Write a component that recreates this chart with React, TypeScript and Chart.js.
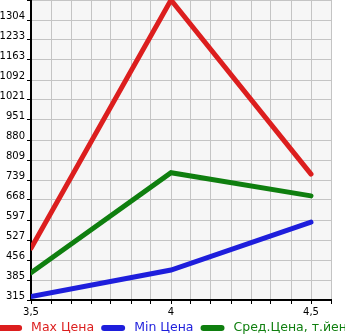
import React, { useEffect, useRef } from "react";
import { Chart, registerables } from "chart.js";

Chart.register(...registerables);

const xValues = [3.5, 4, 4.5];
const xTickLabels = ["3,5", "4", "4,5"];
const maxPrice = [498, 1375, 760];
const minPrice = [327, 421, 590];
const avgPrice = [411, 765, 683];
const seriesNames = ["Max Цена", "Min Цена", "Сред.Цена, т.йен"];
const seriesColors = ["#dc1e1e", "#1e1edc", "#0f7f0f"];
const yTickLabels = ["315", "385", "456", "527", "597", "668", "739", "809", "880", "951", "1021", "1092", "1163", "1233", "1304", ""];
const yMin = 315;
const yStep = 70.68;
const xStep = 1 / 14;

const FONT = "'DejaVu Sans', sans-serif";

export default function App() {
  const ref = useRef<HTMLCanvasElement | null>(null);
  useEffect(() => {
    if (!ref.current) return;
    const bgPlugin = {
      id: "bg",
      beforeDraw(chart: any) {
        const { ctx, chartArea } = chart;
        ctx.save();
        ctx.fillStyle = "#f6f6f6";
        ctx.fillRect(chartArea.left, chartArea.top, chartArea.right - chartArea.left, chartArea.bottom - chartArea.top);
        ctx.restore();
      },
    };
    const legendPlugin = {
      id: "customLegend",
      afterDraw(chart: any) {
        const ctx = chart.ctx;
        ctx.save();
        ctx.font = "12.5px " + FONT;
        const segW = 24, gap = 9, itemGap = 7;
        const items = chart.data.datasets.map((d: any) => ({ label: d.label, color: d.borderColor, w: ctx.measureText(d.label).width }));
        let total = 0;
        items.forEach((it: any, i: number) => { total += segW + gap + it.w + (i < items.length - 1 ? itemGap : 0); });
        let x = (chart.width - total) / 2;
        const y = 328;
        items.forEach((it: any) => {
          ctx.strokeStyle = it.color;
          ctx.lineWidth = 6;
          ctx.lineCap = "round";
          ctx.beginPath();
          ctx.moveTo(x + 3, y);
          ctx.lineTo(x + segW - 3, y);
          ctx.stroke();
          ctx.fillStyle = it.color;
          ctx.textBaseline = "middle";
          ctx.textAlign = "left";
          ctx.fillText(it.label, x + segW + gap, y);
          x += segW + gap + it.w + itemGap;
        });
        ctx.restore();
      },
    };
    const mk = (vals: number[]) => xValues.map((x, i) => ({ x, y: vals[i] }));
    const zeroPad = (scale: any) => {
      scale.paddingTop = 0;
      scale.paddingBottom = 0;
      scale.paddingLeft = 0;
      scale.paddingRight = 0;
    };
    const chart = new Chart(ref.current, {
      type: "line",
      data: {
        datasets: [maxPrice, minPrice, avgPrice].map((vals, i) => ({
          label: seriesNames[i],
          data: mk(vals),
          borderColor: seriesColors[i],
          backgroundColor: seriesColors[i],
          borderWidth: 5,
          pointRadius: 0,
          tension: 0,
          fill: false,
          borderCapStyle: "round",
        })),
      },
      options: {
        animation: false,
        responsive: false,
        maintainAspectRatio: false,
        layout: { padding: { left: 0, right: 14, top: 0, bottom: 0 } },
        plugins: { legend: { display: false }, tooltip: { enabled: false } },
        scales: {
          x: {
            type: "linear",
            min: 3.5,
            max: 3.5 + 15 * xStep,
            afterBuildTicks(scale: any) {
              scale.ticks = Array.from({ length: 16 }, (_, k) => ({ value: 3.5 + k * xStep }));
            },
            afterFit(scale: any) { scale.height = 35; zeroPad(scale); },
            grid: { color: "#c4c4c4", lineWidth: 1, tickLength: 4, tickColor: "#000" },
            border: { color: "#000", width: 2 },
            ticks: {
              autoSkip: false,
              maxRotation: 0,
              padding: 2,
              color: "#000",
              font: { family: FONT, size: 10 },
              callback(value: any) {
                const i = xValues.findIndex((v) => Math.abs(v - Number(value)) < 1e-6);
                return i >= 0 ? xTickLabels[i] : "";
              },
            },
          },
          y: {
            type: "linear",
            min: yMin,
            max: yMin + 15 * yStep,
            afterBuildTicks(scale: any) {
              scale.ticks = Array.from({ length: 16 }, (_, k) => ({ value: yMin + k * yStep }));
            },
            afterFit(scale: any) { scale.width = 31; zeroPad(scale); },
            grid: { color: "#c4c4c4", lineWidth: 1, tickLength: 4, tickColor: "#000" },
            border: { color: "#000", width: 2 },
            ticks: {
              autoSkip: false,
              padding: 2,
              labelOffset: -4,
              color: "#000",
              font: { family: FONT, size: 10 },
              callback(_v: any, index: number) {
                return yTickLabels[index] ?? "";
              },
            },
          },
        },
      },
      plugins: [bgPlugin, legendPlugin],
    });
    return () => chart.destroy();
  }, []);
  return (
    <div style={{ position: "fixed", left: 0, top: 0, width: 345, height: 335, background: "#fff" }}>
      <canvas ref={ref} width={345} height={335} style={{ width: 345, height: 335, display: "block" }} />
    </div>
  );
}
